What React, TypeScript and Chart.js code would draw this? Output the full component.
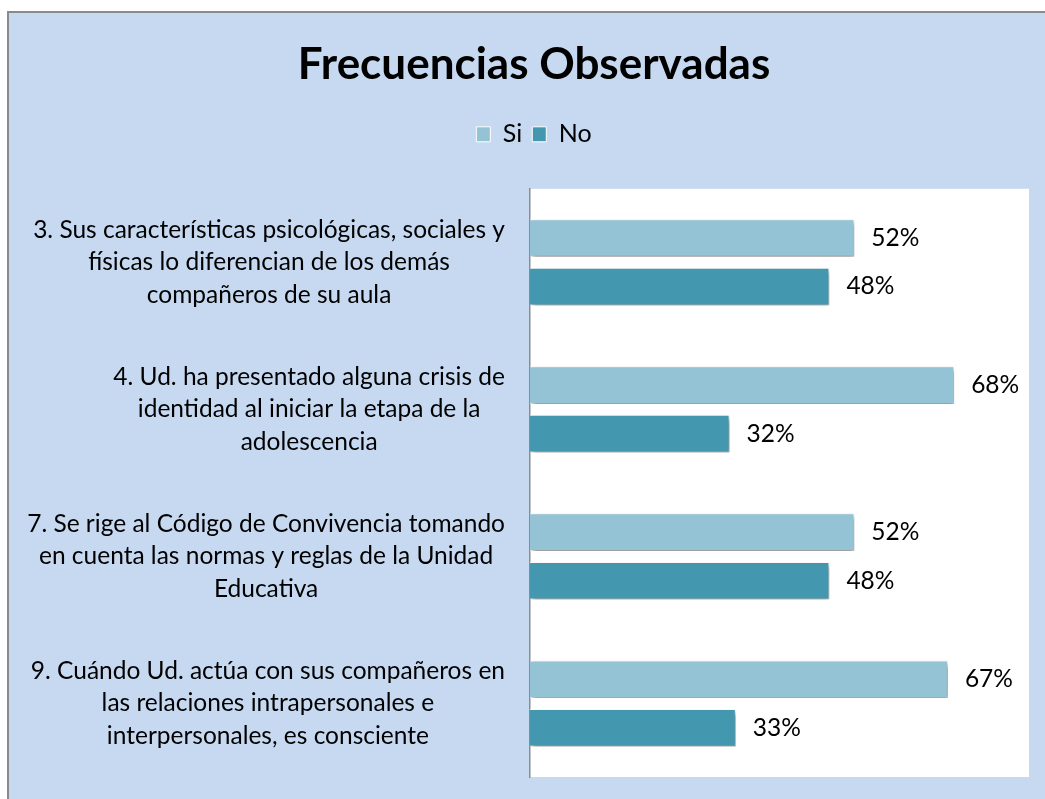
import React, { useEffect, useRef } from "react";
import { Chart, registerables } from "chart.js";

Chart.register(...registerables);

const categories: string[][] = [
  ["3. Sus características psicológicas, sociales y", "físicas lo diferencian de los demás", "compañeros de su aula"],
  ["4. Ud. ha presentado alguna crisis de", "identidad al iniciar la etapa de la", "adolescencia"],
  ["7. Se rige al Código de Convivencia tomando", "en cuenta las normas y reglas de la Unidad", "Educativa"],
  ["9. Cuándo Ud. actúa con sus compañeros en", "las relaciones intrapersonales e", "interpersonales, es consciente"],
];
const siValues = [0.52, 0.68, 0.52, 0.67];
const noValues = [0.48, 0.32, 0.48, 0.33];
const seriesNames = ["Si", "No"];
const titleText = "Frecuencias Observadas";

const FONT = "Lato, 'Open Sans', sans-serif";

export default function App() {
  const ref = useRef<HTMLCanvasElement | null>(null);

  useEffect(() => {
    if (!ref.current) return;

    const bgPlugin = {
      id: "plotBg",
      beforeDraw(chart: any) {
        const { ctx, chartArea } = chart;
        ctx.save();
        ctx.fillStyle = "#ffffff";
        ctx.fillRect(chartArea.left, chartArea.top, chartArea.right - chartArea.left, chartArea.bottom - chartArea.top);
        ctx.restore();
      },
    };

    const legendMargin = {
      id: "legendMargin",
      beforeInit(chart: any) {
        const orig = chart.legend.fit;
        chart.legend.fit = function () {
          orig.bind(chart.legend)();
          this.height += 32;
        };
      },
    };

    const shadowPlugin = {
      id: "barShadow",
      beforeDatasetsDraw(chart: any) {
        const ctx = chart.ctx;
        ctx.save();
        ctx.shadowColor = "rgba(0,0,0,0.45)";
        ctx.shadowBlur = 5;
        ctx.shadowOffsetX = 2;
        ctx.shadowOffsetY = 3;
      },
      afterDatasetsDraw(chart: any) {
        chart.ctx.restore();
      },
    };

    const labelsPlugin = {
      id: "labels",
      afterDraw(chart: any) {
        const { ctx, chartArea } = chart;
        const yScale = chart.scales.y;
        ctx.save();
        ctx.fillStyle = "#000";
        ctx.font = `24.5px ${FONT}`;
        ctx.textBaseline = "middle";
        const lh = 32.5;
        categories.forEach((lines, i) => {
          const cy = yScale.getPixelForTick(i);
          const maxW = Math.max(...lines.map((l) => ctx.measureText(l).width));
          const right = chartArea.left - 25;
          const cx = right - maxW / 2;
          ctx.textAlign = "center";
          lines.forEach((l, j) => {
            ctx.fillText(l, cx, cy + (j - (lines.length - 1) / 2) * lh);
          });
        });
        ctx.textAlign = "left";
        chart.data.datasets.forEach((ds: any, di: number) => {
          const meta = chart.getDatasetMeta(di);
          meta.data.forEach((bar: any, i: number) => {
            const v = ds.data[i];
            ctx.fillText(Math.round(v * 100) + "%", bar.x + 17, bar.y);
          });
        });
        ctx.restore();
      },
    };

    const chart = new Chart(ref.current, {
      type: "bar",
      data: {
        labels: categories.map((c) => c.join(" ")),
        datasets: [
          {
            label: seriesNames[0],
            data: siValues,
            backgroundColor: "#93c3d5",
            borderColor: "rgba(255,255,255,0.9)",
            borderWidth: 1,
            categoryPercentage: 0.66,
            barPercentage: 0.775,
          },
          {
            label: seriesNames[1],
            data: noValues,
            backgroundColor: "#4398b0",
            borderColor: "rgba(255,255,255,0.9)",
            borderWidth: 1,
            categoryPercentage: 0.66,
            barPercentage: 0.775,
          },
        ],
      },
      options: {
        indexAxis: "y",
        animation: false,
        responsive: false,
        maintainAspectRatio: false,
        layout: { padding: { left: 30, right: 30, bottom: 22, top: 0 } },
        scales: {
          x: {
            min: 0,
            max: 0.8,
            display: false,
            grid: { display: false },
          },
          y: {
            grid: { display: false, drawTicks: false },
            ticks: { display: false },
            border: { display: true, color: "#8c8c8c", width: 1.5 },
            afterFit: (scale: any) => {
              scale.width = 491;
            },
          },
        },
        plugins: {
          title: {
            display: true,
            text: titleText,
            color: "#000",
            font: { family: FONT, size: 44, weight: "bold", lineHeight: 1.2 },
            padding: { top: 25, bottom: 21 },
          },
          legend: {
            display: true,
            position: "top",
            labels: {
              color: "#000",
              font: { family: FONT, size: 25 },
              boxWidth: 14,
              boxHeight: 15,
              padding: 10,
              generateLabels: (ch: any) =>
                ch.data.datasets.map((ds: any, i: number) => ({
                  text: ds.label,
                  fillStyle: ds.backgroundColor,
                  strokeStyle: "#ffffff",
                  lineWidth: 1,
                  hidden: false,
                  datasetIndex: i,
                  fontColor: "#000",
                })),
            },
          },
          tooltip: { enabled: false },
        },
      },
      plugins: [bgPlugin, legendMargin, shadowPlugin, labelsPlugin],
    });
    return () => chart.destroy();
  }, []);

  return (
    <div
      style={{
        position: "absolute",
        left: 7,
        top: 11,
        width: 1038,
        height: 788,
        background: "#c6d9f0",
        borderLeft: "2px solid #8a8a8a",
        borderTop: "2px solid #8a8a8a",
        overflow: "hidden",
      }}
    >
      <canvas ref={ref} width={1050} height={786} style={{ display: "block" }} />
    </div>
  );
}
